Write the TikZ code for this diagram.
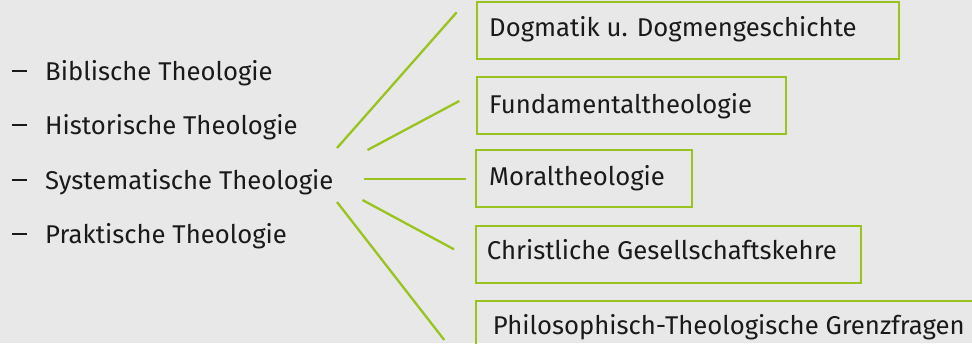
\documentclass[tikz,border=0pt]{standalone}
\usepackage{fontspec}
\setmainfont{Fira Sans}
\usetikzlibrary{positioning}
\usetikzlibrary{calc}
\definecolor{paper}{HTML}{E8E8E8}
\definecolor{leaf}{HTML}{99C31F}
\definecolor{ink}{HTML}{1A1A1A}
\tikzset{
    % Plain text, used for the list and inside the boxes
    plain text/.style={anchor=base west, inner sep=0, text=ink,
        font=\fontsize{25.7}{29}\selectfont},
%
    % The green framed boxes on the right
    field box/.style={draw=leaf, line width=2.2pt, anchor=north west,
        minimum height=57pt, inner sep=0},
%
    % The fan of green lines
    fan line/.style={draw=leaf, line width=2.3pt}}

\begin{document}
\begin{tikzpicture}[x=1pt, y=-1pt]

% Background and page size

\fill [paper] (0,0) rectangle (972,343);
\useasboundingbox (0,0) rectangle (972,343);
\clip (0,0) rectangle (972,343);

% The four branches

\node [plain text] (bib) at (45,80) {Biblische Theologie};
\node [plain text] (hist) at (45,134) {Historische Theologie};
\node [plain text] (sys) at (45,189) {Systematische Theologie};
\node [plain text] (prak) at (45,243) {Praktische Theologie};
\foreach \item in {bib, hist, sys, prak}
    \draw [ink, line width=1.6pt] ($(\item.base west)+(-33,-9)$) -- +(15,0);

% The fields of systematic theology

\node [field box, minimum width=422pt] (dogma) at (476,1) {};
\node [plain text] (dogma text) at (489,36.7)
    {Dogmatik u. Dogmengeschichte};
\node [field box, minimum width=309pt] (fund) at (476,76) {};
\node [plain text] (fund text) at (489,113.3)
    {Fundamentaltheologie};
\node [field box, minimum width=216pt] (moral) at (475,149) {};
\node [plain text] (moral text) at (489,185.7)
    {Moraltheologie};
\node [field box, minimum width=385pt] (gesell) at (475,225) {};
\node [plain text] (gesell text) at (486.7,259.3)
    {Christliche Gesellschaftskehre};
\node [field box, minimum width=520pt] (grenz) at (475,299.5) {};
\node [plain text] (grenz text) at (492.7,334.3)
    {Philosophisch-Theologische Grenzfragen};

% Fan from Systematische Theologie

\coordinate (fan one) at (337,148);
\coordinate (fan two) at (367.5,150);
\coordinate (fan three) at (364,179.3);
\coordinate (fan four) at (362.5,200);
\coordinate (fan five) at (337,202);
\coordinate (tip one) at (456.7,12.3);
\coordinate (tip two) at (459.3,101);
\coordinate (tip three) at (465.5,179.3);
\coordinate (tip four) at (454,249.3);
\coordinate (tip five) at (444.3,340);
\foreach \n in {one, two, three, four, five}
    \path [fan line] (fan \n) -- (tip \n);

\end{tikzpicture}
\end{document}
